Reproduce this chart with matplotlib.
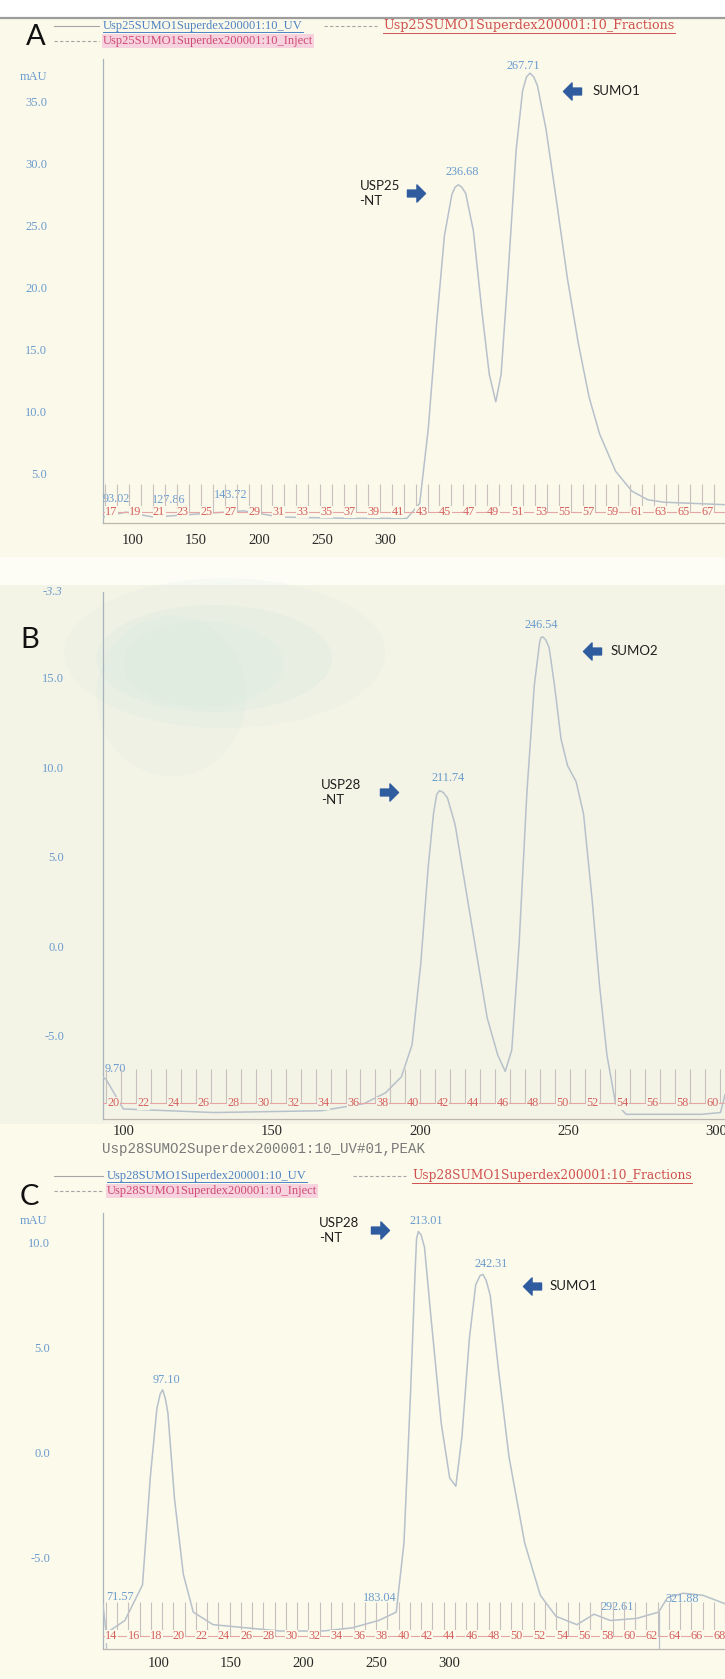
import numpy as np
import matplotlib
matplotlib.use("Agg")
import matplotlib.pyplot as plt
from matplotlib.lines import Line2D
from matplotlib.patches import Rectangle, Ellipse
from matplotlib.path import Path

# ---------------- data ----------------
# Panel A : Usp25SUMO1 Superdex200 run
a_ml = [83.0, 93.02, 105.0, 127.86, 143.72, 160.0, 190.0, 214.5, 220.0, 223.7,
        227.4, 230.7, 233.9, 235.3, 236.68, 238.2, 239.9, 243.2, 246.9, 250.1,
        252.9, 255.2, 258.4, 261.7, 264.5, 266.2, 267.71, 269.3, 270.9, 274.6,
        279.3, 283.9, 288.5, 293.2, 297.8, 304.7, 311.7, 318.6, 325.6, 352.0]
a_mau = [1.5, 1.9, 1.5, 1.8, 2.0, 1.5, 1.4, 1.4, 2.6, 8.6,
         17.3, 24.2, 27.5, 28.1, 28.3, 28.1, 27.6, 24.6, 18.1, 13.0,
         10.8, 13.0, 21.6, 31.1, 35.9, 37.0, 37.3, 37.0, 36.3, 32.8,
         26.8, 20.7, 15.6, 11.2, 8.2, 5.2, 3.6, 2.9, 2.7, 2.5]
a_peaks = [93.02, 127.86, 143.72, 236.68, 267.71]
a_yticks = [5, 10, 15, 20, 25, 30, 35]
a_mlticks = [100, 150, 200, 250, 300]
a_fractions = [17, 19, 21, 23, 25, 27, 29, 31, 33, 35, 37, 39, 41, 43, 45, 47,
               49, 51, 53, 55, 57, 59, 61, 63, 65, 67]

# Panel B : Usp28SUMO2 Superdex200 run
b_ml = [98.2, 99.5, 105.1, 135.7, 171.8, 186.3, 193.5, 198.9, 202.5, 205.4,
        207.9, 209.7, 210.8, 211.74, 213.0, 214.4, 217.0, 220.6, 224.2, 227.8,
        231.4, 233.9, 236.1, 238.6, 241.2, 243.7, 245.5, 245.9, 246.54, 247.5,
        248.7, 250.5, 252.7, 254.9, 257.8, 260.3, 263.2, 265.7, 268.2, 271.1,
        274.7, 300.0, 306.5, 308.0]
b_mau = [-7.3, -7.5, -9.1, -9.3, -9.2, -8.8, -8.2, -7.3, -5.5, -1.0,
         4.4, 7.4, 8.5, 8.7, 8.6, 8.3, 6.8, 3.2, -0.4, -4.0,
         -6.1, -7.0, -5.8, 0.2, 8.6, 14.6, 17.0, 17.25, 17.3, 17.15,
         16.7, 14.6, 11.6, 10.1, 9.2, 7.4, 2.6, -2.2, -6.1, -8.8,
         -9.4, -9.4, -9.3, -8.3]
b_peaks = [9.70, 211.74, 246.54]
b_yticks = [-5, 0, 5, 10, 15]
b_mlticks = [100, 150, 200, 250, 300]
b_fractions = [20, 22, 24, 26, 28, 30, 32, 34, 36, 38, 40, 42, 44, 46, 48, 50,
               52, 54, 56, 58, 60]

# Panel C : Usp28SUMO1 Superdex200 run
c_ml = [70.0, 71.57, 80.0, 88.0, 91.5, 94.5, 96.0, 97.10, 98.3, 99.5,
        102.5, 106.5, 111.0, 120.0, 150.0, 170.0, 183.04, 195.0, 203.0, 206.5,
        209.5, 211.5, 212.2, 213.01, 214.2, 215.8, 218.7, 223.4, 227.2, 230.0,
        232.8, 236.1, 239.0, 241.0, 242.31, 243.8, 245.6, 249.4, 254.1, 261.2,
        268.3, 275.4, 284.9, 292.61, 300.0, 312.0, 321.88, 326.0, 333.0, 342.0,
        352.0]
c_mau = [-7.2, -8.6, -8.0, -6.3, -1.2, 2.1, 2.8, 3.0, 2.6, 1.9,
         -2.2, -5.8, -7.6, -8.2, -8.5, -8.5, -8.35, -8.0, -7.6, -4.3,
         2.9, 8.5, 10.2, 10.55, 10.4, 9.8, 6.5, 1.4, -1.2, -1.6,
         0.8, 5.4, 8.0, 8.45, 8.5, 8.2, 7.5, 3.9, -0.2, -4.3,
         -6.8, -7.8, -8.2, -7.7, -8.0, -7.9, -7.6, -6.9, -6.7, -6.8,
         -7.2]
c_peaks = [71.57, 97.10, 183.04, 213.01, 242.31, 292.61, 321.88]
c_yticks = [-5, 0, 5, 10]
c_mlticks = [100, 150, 200, 250, 300]
c_fractions = [14, 16, 18, 20, 22, 24, 26, 28, 30, 32, 34, 36, 38, 40, 42, 44,
               46, 48, 50, 52, 54, 56, 58, 60, 62, 64, 66, 68]
c_markers = [71.57, 321.88]

# ---------------- layout helpers ----------------
W, H = 677.0, 1568.0          # reference coordinates (shown size)
def fx(x): return x / W
def fy(y): return 1 - y / H

SERIF = ["Liberation Serif", "DejaVu Serif"]
SANS = ["Lato", "DejaVu Sans"]
BLUE = "#6b9bcd"
RED = "#d5605f"
CURVE = "#b7c1cb"
ARROW = "#2f5b9f"
BG_A, BG_B, BG_C = "#fbf9ea", "#f4f4e6", "#fbfaeb"

fig = plt.figure(figsize=(7.25, 16.79), dpi=100)
fig.patch.set_facecolor(BG_A)

def band(y0, y1, color):
    fig.add_artist(Rectangle((0, fy(y1)), 1, (y1 - y0) / H, transform=fig.transFigure,
                             facecolor=color, edgecolor="none", zorder=-10))

band(0, 17, "white")
band(17, 520, BG_A)
band(520, 546, "#fdfdf6")
band(546, 1050, BG_B)
band(1050, 1568, BG_C)
for (ex, ey, ew, eh, a) in [(210, 610, 300, 140, 0.18), (200, 615, 220, 100, 0.2),
                            (160, 650, 140, 150, 0.18), (190, 620, 150, 80, 0.2)]:
    fig.add_artist(Ellipse((fx(ex), fy(ey)), ew / W, eh / H, transform=fig.transFigure,
                           facecolor="#d3e8dd", edgecolor="none", alpha=a, zorder=-9))
fig.add_artist(Line2D([0, 1], [fy(17), fy(17)], transform=fig.transFigure,
                      color="#9c9c9c", lw=1.6))

right_verts = [(-1.0, -0.38), (0.05, -0.38), (0.05, -0.95), (1.0, 0.0), (0.05, 0.95),
               (0.05, 0.38), (-1.0, 0.38), (-1.0, -0.38)]
codes = [Path.MOVETO] + [Path.LINETO] * 6 + [Path.CLOSEPOLY]
RIGHT = Path(right_verts, codes)
LEFT = Path([(-x, y) for x, y in right_verts], codes)


def make_panel(p):
    top, bottom = p["top"], p["bottom"]
    rect = [fx(96), fy(bottom), 1 - fx(96), (bottom - top) / H]
    ax = fig.add_axes(rect)
    ax.set_facecolor("none")
    ax.set_xlim(p["xlim"])
    ax.set_ylim(p["ylim"])

    # ml labels row (own scale, as printed in the reference)
    axm = ax.twiny()
    axm.set_xlim(p["ml_lim"])
    axm.xaxis.set_ticks_position("bottom")
    for s in axm.spines.values():
        s.set_visible(False)
    axm.set_xticks(p["mlticks"])
    axm.set_xticklabels([str(v) for v in p["mlticks"]])
    axm.tick_params(axis="x", which="both", length=0, pad=p["mlpad"], labelsize=10.5,
                    labelcolor="#2a2a2a", top=False, labeltop=False)
    for t in axm.get_xticklabels():
        t.set_family(SERIF)

    # fraction row
    axf = ax.twiny()
    axf.set_xlim(p["fr_lim"])
    axf.axis("off")

    # main axis styling (after twins, which reset tick positions)
    ax.spines["top"].set_visible(False)
    ax.spines["right"].set_visible(False)
    ax.spines["left"].set_color("#a9b3bb")
    ax.spines["left"].set_linewidth(0.9)
    ax.spines["bottom"].set_color("#bdb7b0")
    ax.spines["bottom"].set_linewidth(0.9)
    ax.tick_params(axis="x", which="both", bottom=False, top=False,
                   labelbottom=False, labeltop=False)
    ax.set_yticks(p["yticks"])
    ax.set_yticklabels([f"{v:.1f}" for v in p["yticks"]])
    ax.tick_params(axis="y", length=0, pad=p["ypad"], labelsize=9, labelcolor=BLUE)
    for t in ax.get_yticklabels():
        t.set_family(SERIF)

    trf = axf.get_xaxis_transform()
    lo, hi = p["fr_lim"]
    bounds = np.arange(np.floor(lo) - 0.5, hi + 1.0, 1.0)
    axf.vlines(bounds, p["fr_y"], p["fr_y"] + p["fr_h"], transform=trf,
               color="#c8bfbf", lw=0.8, clip_on=True)
    axf.plot([lo, hi], [p["fr_y"], p["fr_y"]], transform=trf, color="#e5a6a6", lw=0.8)
    for n in p["fracs"]:
        axf.text(n, p["fr_y"], str(n), transform=trf, ha="center", va="center",
                 fontsize=8.8, color=RED, family=SERIF, clip_on=True,
                 bbox=dict(facecolor=p["bg"], edgecolor="none", pad=0.3))

    # chromatogram
    ax.plot(p["ml"], p["mau"], color=CURVE, lw=1.1, zorder=3,
            solid_joinstyle="round")
    for m in p.get("markers", []):
        yv = np.interp(m, p["ml"], p["mau"])
        ax.plot([m, m], [p["ylim"][0], yv], color=CURVE, lw=0.9, zorder=3)

    # peak labels
    for pk, (dx, dy, ha) in zip(p["peaks"], p["offs"]):
        xp = max(pk, p["xlim"][0])
        yp = np.interp(xp, p["ml"], p["mau"])
        ax.annotate(f"{pk:.2f}", xy=(xp, yp), xytext=(dx, dy), textcoords="offset points",
                    ha=ha, va="bottom", fontsize=8.8, color=BLUE, family=SERIF, zorder=5)

    # protein annotations
    for (tx, ty, s, ax_, ay_, mk) in p["notes"]:
        ax.text(tx, ty, s, ha="left", va="center", fontsize=9.5, family=SANS,
                color="#1f1f1f", linespacing=1.35, zorder=6)
        ax.plot([ax_], [ay_], marker=mk, ms=13, color=ARROW, mec=ARROW, zorder=6)
    return ax


panels = [
    dict(top=55, bottom=488, xlim=(83.0, 352.0), ylim=(1.06, 38.45),
         ml_lim=(76.3, 568.6), fr_lim=(16.28, 68.44), bg=BG_A,
         ml=a_ml, mau=a_mau, peaks=a_peaks,
         offs=[(-7, 5, "center"), (-27, 5, "center"), (-9, 7, "center"),
               (3, 5, "center"), (-5, 1, "center")],
         yticks=a_yticks, ypad=40, mlpad=8, mlticks=a_mlticks,
         fracs=a_fractions, fr_y=0.023, fr_h=0.06,
         notes=[(194.0, 27.6, "USP25\n-NT", 218.2, 27.6, RIGHT),
                (294.6, 35.9, "SUMO1", 285.8, 35.9, LEFT)]),
    dict(top=553, bottom=1045, xlim=(98.2, 308.0), ylim=(-9.66, 19.8),
         ml_lim=(93.0, 303.0), fr_lim=(19.28, 60.86), bg=BG_B,
         ml=b_ml, mau=b_mau, peaks=b_peaks,
         offs=[(1, 1, "left"), (6, 5, "center"), (-1, 4, "center")],
         yticks=b_yticks, ypad=28, mlpad=4, mlticks=b_mlticks,
         fracs=b_fractions, fr_y=0.030, fr_h=0.065,
         notes=[(171.8, 8.6, "USP28\n-NT", 194.6, 8.6, RIGHT),
                (269.3, 16.5, "SUMO2", 263.2, 16.5, LEFT)]),
    dict(top=1133, bottom=1540, xlim=(70.0, 352.0), ylim=(-9.36, 11.42),
         ml_lim=(61.6, 490.4), fr_lim=(13.24, 68.48), bg=BG_C,
         ml=c_ml, mau=c_mau, peaks=c_peaks, markers=c_markers,
         offs=[(0, 22, "left"), (3, 3, "center"), (20, 17, "center"), (6, 3, "center"),
               (6, 3, "center"), (17, 1, "center"), (17, 5, "center")],
         yticks=c_yticks, ypad=38, mlpad=6, mlticks=c_mlticks,
         fracs=c_fractions, fr_y=0.029, fr_h=0.08,
         notes=[(168.1, 10.6, "USP28\n-NT", 195.7, 10.6, RIGHT),
                (272.4, 7.95, "SUMO1", 264.7, 7.95, LEFT)]),
]

for p in panels:
    make_panel(p)

# ---------------- panel letters and headers ----------------
for letter, (lx, ly) in {"A": (33, 35), "B": (28, 598), "C": (27, 1118)}.items():
    fig.text(fx(lx), fy(ly), letter, ha="center", va="center", fontsize=21,
             family=SANS, color="#111111")

for (mx, my) in [(31, 72), (31, 1140)]:
    fig.text(fx(mx), fy(my), "mAU", ha="center", va="center", fontsize=9,
             family=SERIF, color=BLUE)
fig.text(fx(49), fy(553), "-3.3", ha="center", va="center", fontsize=9,
         family=SERIF, color=BLUE, style="italic")

legend_items = []
def legend_row(x, y, s, color, hl=None, size=9, family=SERIF):
    t = fig.text(fx(x), fy(y), s, ha="left", va="center", fontsize=size,
                 family=family, color=color,
                 bbox=None if hl is None else dict(facecolor=hl, edgecolor="none", pad=0.6))
    legend_items.append((t, color))

def dash(x0, x1, y, ls):
    fig.add_artist(Line2D([fx(x0), fx(x1)], [fy(y), fy(y)], transform=fig.transFigure,
                          color="#a5a5a5", lw=0.8, ls=ls))

for (base, run) in [(0, "Usp25SUMO1Superdex200001:10"), (1074, "Usp28SUMO1Superdex200001:10")]:
    y1, y2 = 24 + base, 38 + base
    xt = 96 if base == 0 else 100
    xf = 358 if base == 0 else 385
    dash(50, xt - 4, y1, "-")
    dash(50, xt - 4, y2, (0, (3, 2)))
    dash(xf - 55, xf - 6, y1, (0, (3, 2)))
    legend_row(xt, y1, run + "_UV", "#4d82c3")
    legend_row(xt, y2, run + "_Inject", "#cf4a72", hl="#f7d3df")
    legend_row(xf, y1, run + "_Fractions", "#d0504e",
               size=9.2 if base == 0 else 8.8, family=["DejaVu Serif"])

fig.text(fx(95), fy(1073), "Usp28SUMO2Superdex200001:10_UV#01,PEAK", ha="left",
         va="center", fontsize=10.2, family=["Liberation Mono", "DejaVu Sans Mono"],
         color="#7a7a7a")

# underline legend texts
fig.canvas.draw()
r = fig.canvas.get_renderer()
inv = fig.transFigure.inverted()
for t, c in legend_items:
    bb = t.get_window_extent(renderer=r)
    (x0, y0), (x1, _) = inv.transform([(bb.x0, bb.y0), (bb.x1, bb.y1)])
    fig.add_artist(Line2D([x0, x1], [y0 - 0.0004, y0 - 0.0004], transform=fig.transFigure,
                          color=c, lw=0.7))

fig.savefig("out.png", dpi=100, facecolor=fig.get_facecolor())
